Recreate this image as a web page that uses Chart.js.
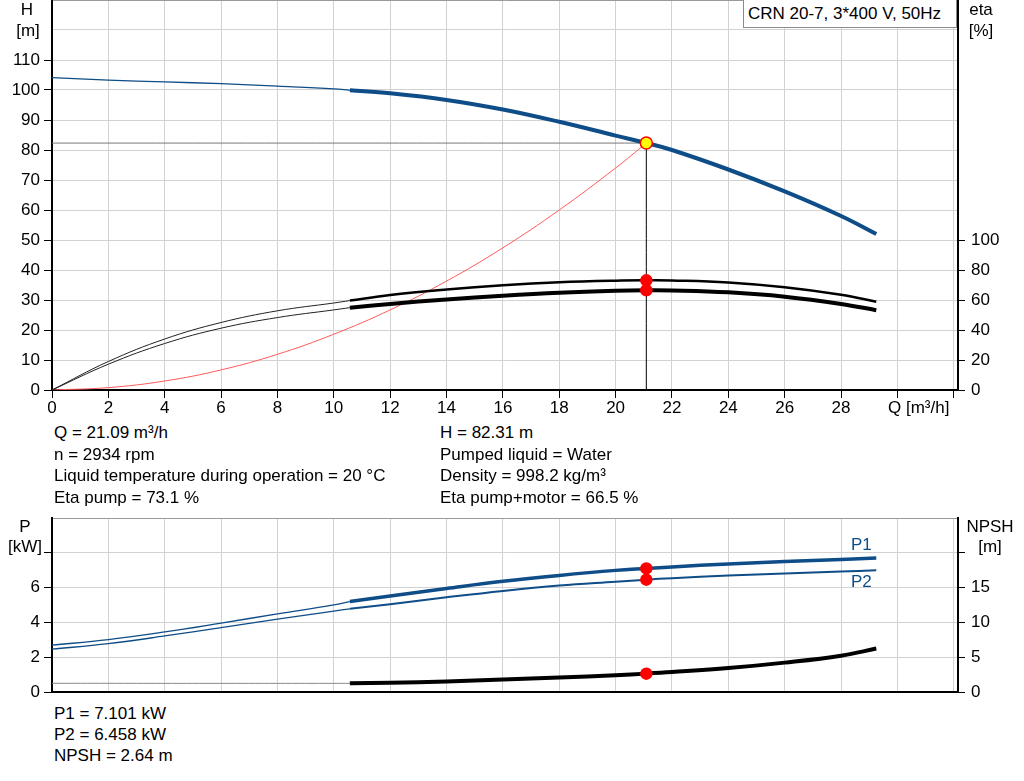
<!DOCTYPE html>
<html><head><meta charset="utf-8">
<script src="https://cdn.jsdelivr.net/npm/chart.js@4.4.1/dist/chart.umd.min.js"></script>
<style>
body{margin:0;background:#fff;}
#wrap{position:relative;width:1024px;height:781px;overflow:hidden;font-family:'Liberation Sans',Arial,sans-serif;font-size:17px;color:#000;background:#fff;}
canvas{position:absolute;left:0;}
.t{position:absolute;white-space:nowrap;line-height:20px;}
.c{text-align:center;width:60px;}
#legend{position:absolute;left:743px;top:-1px;width:214px;height:29px;border:1px solid #8a8a8a;background:#fff;box-sizing:border-box;padding-left:4px;line-height:28px;white-space:nowrap;}
</style></head><body>
<div id="wrap">
<canvas id="topChart" width="1024" height="420" style="top:0"></canvas>
<canvas id="botChart" width="1024" height="200" style="top:500px"></canvas>
<div id="legend">CRN 20-7, 3*400 V, 50Hz</div>
<div class="t c" style="left:-3px;top:0px">H</div>
<div class="t c" style="left:-2px;top:21px">[m]</div>
<div class="t c" style="left:951px;top:0px">eta</div>
<div class="t c" style="left:951px;top:21px">[%]</div>
<div class="t" style="left:888px;top:398px">Q [m³/h]</div>
<div class="t" style="left:54px;top:423px">Q = 21.09 m³/h</div>
<div class="t" style="left:54px;top:445px">n = 2934 rpm</div>
<div class="t" style="left:54px;top:466px">Liquid temperature during operation = 20 °C</div>
<div class="t" style="left:54px;top:488px">Eta pump = 73.1 %</div>
<div class="t" style="left:440px;top:423px">H = 82.31 m</div>
<div class="t" style="left:440px;top:445px">Pumped liquid = Water</div>
<div class="t" style="left:440px;top:466px">Density = 998.2 kg/m³</div>
<div class="t" style="left:440px;top:488px">Eta pump+motor = 66.5 %</div>
<div class="t c" style="left:-5px;top:517px">P</div>
<div class="t c" style="left:-5px;top:537px">[kW]</div>
<div class="t c" style="left:960px;top:517px">NPSH</div>
<div class="t c" style="left:960px;top:537px">[m]</div>
<div class="t" style="left:851px;top:535px;color:#0e4d87">P1</div>
<div class="t" style="left:851px;top:572px;color:#0e4d87">P2</div>
<div class="t" style="left:54px;top:704px">P1 = 7.101 kW</div>
<div class="t" style="left:54px;top:725px">P2 = 6.458 kW</div>
<div class="t" style="left:54px;top:746px">NPSH = 2.64 m</div>
</div>
<script>
// ---- data ----
const qThin = [0, 2, 4, 6, 8, 10, 10.57];
const qThick = [10.57, 12, 14, 16, 18, 20, 21.09, 22, 24, 26, 28, 29.25];
const headThin = [104.1, 103.3, 102.7, 102.1, 101.3, 100.4, 99.9];
const headThick = [99.9, 98.9, 96.7, 93.5, 89.4, 84.8, 82.31, 80.0, 73.5, 66.2, 58.0, 52.0];
const etaPumpThin = [0, 19.0, 34.0, 45.0, 52.8, 58.0, 59.6];
const etaPumpThick = [59.6, 63.4, 67.0, 69.8, 71.8, 72.9, 73.1, 73.0, 71.7, 68.5, 63.5, 58.9];
const etaTotalThin = [0, 17.2, 31.0, 41.2, 48.3, 53.4, 54.9];
const etaTotalThick = [54.9, 57.4, 60.4, 62.9, 64.9, 66.2, 66.5, 66.4, 65.1, 62.2, 57.4, 53.2];
const qSystem = [0, 2, 4, 6, 8, 10, 12, 14, 16, 18, 20, 21.09];
const headSystem = [0, 0.8, 3.0, 6.7, 11.9, 18.6, 26.7, 36.3, 47.4, 60.0, 74.0, 82.31];
const p1Thin = [2.69, 3.01, 3.45, 3.96, 4.49, 5.01, 5.2];
const p1Thick = [5.2, 5.52, 5.95, 6.36, 6.70, 6.99, 7.101, 7.19, 7.36, 7.50, 7.62, 7.70];
const p2Thin = [2.46, 2.78, 3.22, 3.70, 4.19, 4.65, 4.78];
const p2Thick = [4.78, 5.04, 5.44, 5.81, 6.12, 6.34, 6.458, 6.54, 6.69, 6.81, 6.92, 6.99];
const npshThin = [1.25, 1.25, 1.24, 1.24, 1.24, 1.24, 1.24];
const npshThick = [1.24, 1.33, 1.52, 1.78, 2.08, 2.42, 2.64, 2.86, 3.44, 4.22, 5.22, 6.24];
const dutyQ = 21.09, dutyH = 82.31, dutyEtaPump = 73.1, dutyEtaTotal = 66.5;
const dutyP1 = 7.101, dutyP2 = 6.458, dutyNpsh = 2.64;
const qTicks = [0,2,4,6,8,10,12,14,16,18,20,22,24,26,28,30,32];
const qLabelMax = 28;
const hTicks = [0,10,20,30,40,50,60,70,80,90,100,110,120,130];
const hLabelMax = 110;
const etaTicks = [0,20,40,60,80,100];
const pTicks = [0,2,4,6,8,10];
const npshTicks = [0,5,10,15,20];

// ---- helpers ----
const BLUE = '#0e4d87', GRID = '#d2d2d2';
Chart.defaults.font.family = "'Liberation Sans', Arial, sans-serif";
Chart.defaults.font.size = 17;
Chart.defaults.color = '#000';
const pts = (xs, ys) => xs.map((x, i) => ({x: x, y: ys[i]}));
function line(data, color, width, axis, order) {
  return {data: data, showLine: true, borderColor: color, borderWidth: width, pointRadius: 0,
    pointHoverRadius: 0, fill: false, tension: 0.4, cubicInterpolationMode: 'default',
    yAxisID: axis, order: order};
}
function dot(data, fill, border, r, axis) {
  return {data: data, showLine: false, pointRadius: r, pointBackgroundColor: fill,
    pointBorderColor: border, pointBorderWidth: 1.5, yAxisID: axis, order: 0};
}
function fixSize(prop, v) {
  return function(s) { s[prop] = v; s.paddingTop = 0; s.paddingBottom = 0; s.paddingLeft = 0; s.paddingRight = 0; };
}
const setTicks = arr => axis => { axis.ticks = arr.map(v => ({value: v})); };
const xMax = 32.15;

// ---- top chart ----
new Chart(document.getElementById('topChart'), {
  type: 'scatter',
  data: {datasets: [
    dot([{x: dutyQ, y: dutyH}], '#ffff00', '#ff0000', 6, 'h'),
    dot([{x: dutyQ, y: dutyEtaPump}, {x: dutyQ, y: dutyEtaTotal}], '#ff0000', '#ff0000', 5.5, 'eta'),
    line(pts(qThick, headThick), BLUE, 4, 'h', 2),
    line(pts(qThin, headThin), BLUE, 1.3, 'h', 2),
    line(pts(qThick, etaPumpThick), '#000', 2.5, 'eta', 2),
    line(pts(qThin, etaPumpThin), '#222', 1, 'eta', 2),
    line(pts(qThick, etaTotalThick), '#000', 4, 'eta', 2),
    line(pts(qThin, etaTotalThin), '#222', 1, 'eta', 2),
    line(pts(qSystem, headSystem), '#ff5a5a', 1, 'h', 3),
    line([{x: 0, y: dutyH}, {x: dutyQ, y: dutyH}], '#777', 1, 'h', 4),
    line([{x: dutyQ, y: 0}, {x: dutyQ, y: dutyH}], '#000', 1, 'h', 4)
  ]},
  options: {
    responsive: false, animation: false, devicePixelRatio: 1,
    layout: {padding: 0, autoPadding: false},
    plugins: {legend: {display: false}, tooltip: {enabled: false}},
    events: [],
    scales: {
      x: {type: 'linear', min: 0, max: xMax, afterBuildTicks: setTicks(qTicks), afterFit: fixSize('height', 30),
        grid: {color: GRID, tickColor: '#000', tickLength: 8},
        border: {color: '#000', width: 2},
        ticks: {padding: 0, maxRotation: 0, callback: v => v <= qLabelMax ? String(v) : ''}},
      h: {type: 'linear', position: 'left', min: 0, max: 130, afterBuildTicks: setTicks(hTicks), afterFit: fixSize('width', 52),
        grid: {color: c => (c.tick && c.tick.value === 130) ? '#9a9a9a' : GRID,
               tickColor: c => (c.tick && c.tick.value > hLabelMax) ? 'rgba(0,0,0,0)' : '#000', tickLength: 8},
        border: {color: '#000', width: 2},
        ticks: {padding: 4, callback: v => v <= hLabelMax ? String(v) : ''}},
      eta: {type: 'linear', position: 'right', min: 0, max: 260, afterBuildTicks: setTicks(etaTicks), afterFit: fixSize('width', 66),
        grid: {drawOnChartArea: false, tickColor: '#000', tickLength: 7},
        border: {color: '#000', width: 2},
        ticks: {padding: 6, callback: v => String(v)}}
    }
  }
});

// ---- bottom chart ----
new Chart(document.getElementById('botChart'), {
  type: 'scatter',
  data: {datasets: [
    dot([{x: dutyQ, y: dutyP1}, {x: dutyQ, y: dutyP2}], '#ff0000', '#ff0000', 5.5, 'p'),
    dot([{x: dutyQ, y: dutyNpsh}], '#ff0000', '#ff0000', 5.5, 'npsh'),
    line(pts(qThick, p1Thick), BLUE, 3.5, 'p', 2),
    line(pts(qThin, p1Thin), BLUE, 1.3, 'p', 2),
    line(pts(qThick, p2Thick), BLUE, 2, 'p', 2),
    line(pts(qThin, p2Thin), BLUE, 1.3, 'p', 2),
    line(pts(qThick, npshThick), '#000', 4, 'npsh', 2),
    line(pts(qThin, npshThin), '#888', 1, 'npsh', 2)
  ]},
  options: {
    responsive: false, animation: false, devicePixelRatio: 1,
    layout: {padding: {top: 18, left: 0, right: 0, bottom: 0}, autoPadding: false},
    plugins: {legend: {display: false}, tooltip: {enabled: false}},
    events: [],
    scales: {
      x: {type: 'linear', min: 0, max: xMax, afterBuildTicks: setTicks(qTicks), afterFit: fixSize('height', 8),
        grid: {color: GRID, drawTicks: false},
        border: {color: '#000', width: 2},
        ticks: {display: false}},
      p: {type: 'linear', position: 'left', min: 0, max: 10, afterBuildTicks: setTicks(pTicks), afterFit: fixSize('width', 52),
        grid: {color: c => (c.tick && c.tick.value === 10) ? '#9a9a9a' : GRID,
               tickColor: c => (c.tick && c.tick.value === 10) ? 'rgba(0,0,0,0)' : '#000', tickLength: 8},
        border: {color: '#000', width: 2},
        ticks: {padding: 4, callback: v => v <= 6 ? String(v) : ''}},
      npsh: {type: 'linear', position: 'right', min: 0, max: 25, afterBuildTicks: setTicks(npshTicks), afterFit: fixSize('width', 66),
        grid: {drawOnChartArea: false, tickColor: '#000', tickLength: 7},
        border: {color: '#000', width: 2},
        ticks: {padding: 6, callback: v => v <= 15 ? String(v) : ''}}
    }
  }
});
</script>
</body></html>
